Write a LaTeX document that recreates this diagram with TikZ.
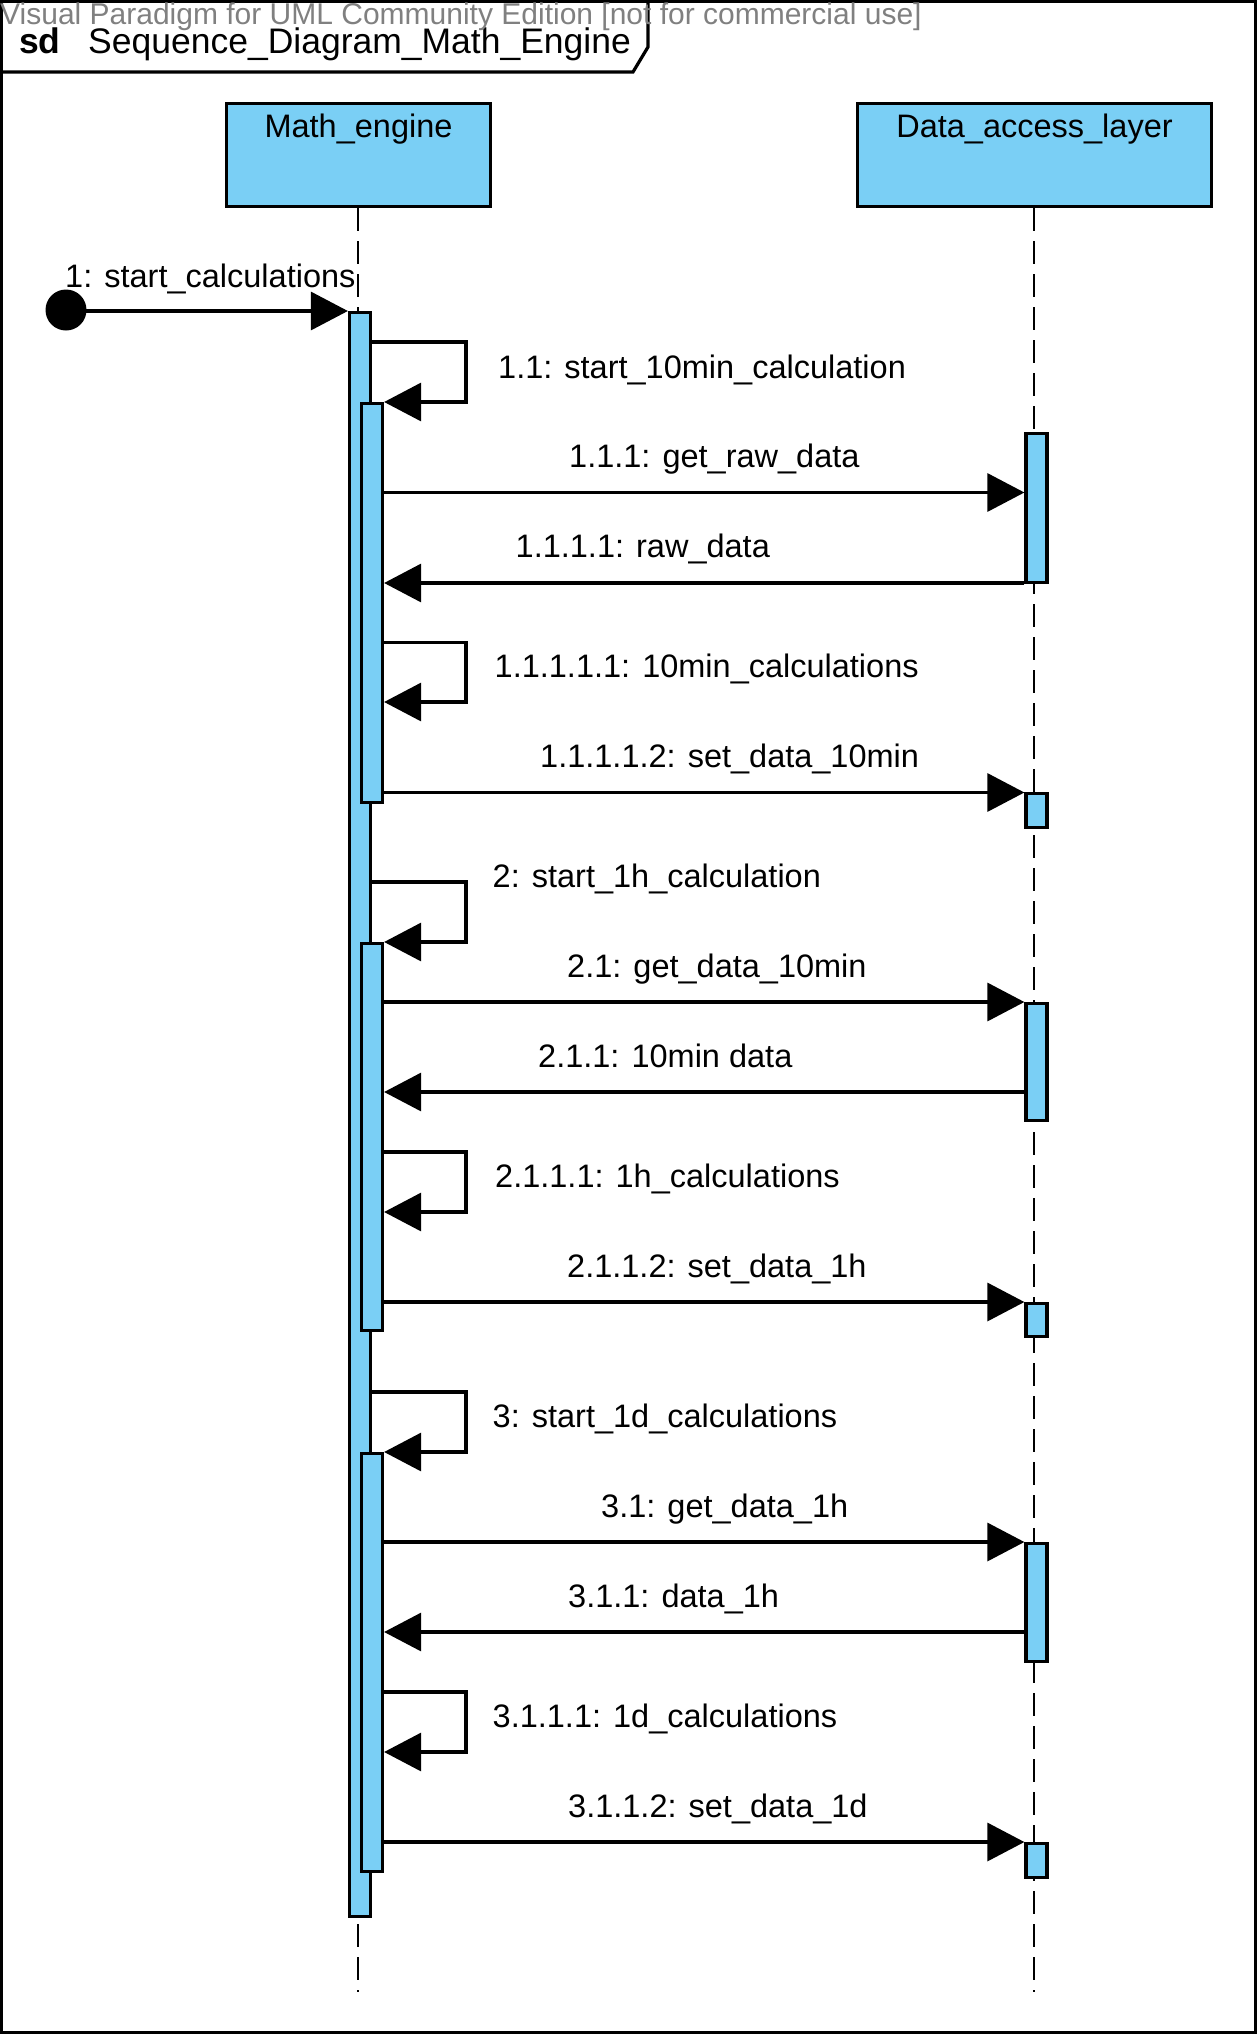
\documentclass[tikz,border=0pt]{standalone}
\usepackage{fontspec}
\setmainfont{Liberation Sans}
\usetikzlibrary{arrows.meta}
\definecolor{actblue}{RGB}{122,207,245}
\definecolor{wmgray}{RGB}{128,128,128}
\begin{document}
\begin{tikzpicture}[x=1pt,y=-1pt,
  thick line/.style={line width=3.2pt},
  headbox/.style={draw, thick line, fill=actblue, inner sep=0pt, anchor=north west},
  bar/.style={draw, thick line, fill=actblue, inner sep=0pt, minimum width=21pt, anchor=north},
  lifeline/.style={line width=2.9pt, dash pattern=on 23pt off 10pt},
  msg/.style={thick line, -{Triangle[length=37pt,width=38pt]}},
  lbl/.style={font=\fontsize{32.5}{39}\selectfont, anchor=base west, inner sep=0pt},
  ttl/.style={font=\fontsize{35.5}{42}\selectfont, anchor=base west, inner sep=0pt}]
\useasboundingbox (0,0) rectangle (1257,2034);

% outer frame and name tag
\draw[thick line] (1.5,1.5) rectangle (1255.5,2032.5);
\draw[thick line] (1.5,72) -- (633,72) -- (648,47) -- (648,1.5);
\node[ttl, font=\fontsize{35.5}{42}\selectfont\bfseries] (sd) at (19,53) {sd};
\node[ttl] (title) at (88,53) {Sequence\_Diagram\_Math\_Engine};
\node[anchor=base west, inner sep=0pt, text=wmgray, font=\fontsize{30}{36}\selectfont] (wm) at (0,25)
  {Visual Paradigm for UML Community Edition [not for commercial use]};

% lifeline heads
\node[headbox, minimum width=264pt, minimum height=103pt] (math) at (225,102) {};
\node[lbl, anchor=base] (mathname) at (358.5,137) {Math\_engine};
\node[headbox, minimum width=354pt, minimum height=103pt] (dal) at (856,102) {};
\node[lbl, anchor=base] (dalname) at (1034.5,137) {Data\_access\_layer};

% lifelines
\coordinate (mathend) at (358,1992);
\coordinate (dalend) at (1034,1992);
\draw[lifeline] (math.south -| mathend) -- (mathend);
\draw[lifeline] (dal.south -| dalend) -- (dalend);

% activation bars on Math_engine
\node[bar, minimum height=1604pt] (main) at (360,311) {};
\node[bar, minimum height=399pt] (n1) at (372,402) {};
\node[bar, minimum height=387pt] (n2) at (372,942) {};
\node[bar, minimum height=418pt] (n3) at (372,1452) {};

% activation bars on Data_access_layer
\node[bar, minimum height=149pt] (d1) at (1036.5,432) {};
\node[bar, minimum height=34pt] (d2) at (1036.5,792) {};
\node[bar, minimum height=117pt] (d3) at (1036.5,1002) {};
\node[bar, minimum height=33pt] (d4) at (1036.5,1302) {};
\node[bar, minimum height=118pt] (d5) at (1036.5,1542) {};
\node[bar, minimum height=34pt] (d6) at (1036.5,1842) {};

% found message
\node[circle, fill=black, inner sep=0pt, minimum size=41pt] (start) at (66,310) {};
\draw[msg] (start.center |- main.north west) -- (main.north west);
\node[lbl] (l1) at (65,287) {1: start\_calculations};

% block 1
\draw[msg] (main.east |- 0,342) -- (466,342) -- (466,402) -- (n1.north east);
\node[lbl] (l11) at (498,378) {1.1: start\_10min\_calculation};
\draw[msg] (n1.east |- 0,492.5) -- (d1.west |- 0,492.5);
\node[lbl] (l111) at (569,467.5) {1.1.1: get\_raw\_data};
\draw[msg] (d1.west |- 0,583) -- (n1.east |- 0,583);
\node[lbl] (l1111) at (515.5,557) {1.1.1.1: raw\_data};
\draw[msg] (n1.east |- 0,642.5) -- (466,642.5) -- (466,702) -- (n1.east |- 0,702);
\node[lbl] (l11111) at (494.5,677) {1.1.1.1.1: 10min\_calculations};
\draw[msg] (n1.east |- 0,792.5) -- (d2.west |- 0,792.5);
\node[lbl] (l11112) at (540,767) {1.1.1.1.2: set\_data\_10min};

% block 2
\draw[msg] (main.east |- 0,882) -- (466,882) -- (466,942) -- (n2.north east);
\node[lbl] (l2) at (492.5,887) {2: start\_1h\_calculation};
\draw[msg] (n2.east |- 0,1002) -- (d3.west |- 0,1002);
\node[lbl] (l21) at (567,977.5) {2.1: get\_data\_10min};
\draw[msg] (d3.west |- 0,1092) -- (n2.east |- 0,1092);
\node[lbl] (l211) at (538,1067) {2.1.1: 10min data};
\draw[msg] (n2.east |- 0,1152) -- (466,1152) -- (466,1212) -- (n2.east |- 0,1212);
\node[lbl] (l2111) at (495,1187) {2.1.1.1: 1h\_calculations};
\draw[msg] (n2.east |- 0,1302) -- (d4.west |- 0,1302);
\node[lbl] (l2112) at (567,1277.5) {2.1.1.2: set\_data\_1h};

% block 3
\draw[msg] (main.east |- 0,1392) -- (466,1392) -- (466,1452) -- (n3.north east);
\node[lbl] (l3) at (492.5,1427.5) {3: start\_1d\_calculations};
\draw[msg] (n3.east |- 0,1542) -- (d5.west |- 0,1542);
\node[lbl] (l31) at (601,1517.5) {3.1: get\_data\_1h};
\draw[msg] (d5.west |- 0,1632) -- (n3.east |- 0,1632);
\node[lbl] (l311) at (568,1607) {3.1.1: data\_1h};
\draw[msg] (n3.east |- 0,1692) -- (466,1692) -- (466,1752) -- (n3.east |- 0,1752);
\node[lbl] (l3111) at (492.5,1727) {3.1.1.1: 1d\_calculations};
\draw[msg] (n3.east |- 0,1842) -- (d6.west |- 0,1842);
\node[lbl] (l3112) at (568,1817) {3.1.1.2: set\_data\_1d};
\end{tikzpicture}
\end{document}
